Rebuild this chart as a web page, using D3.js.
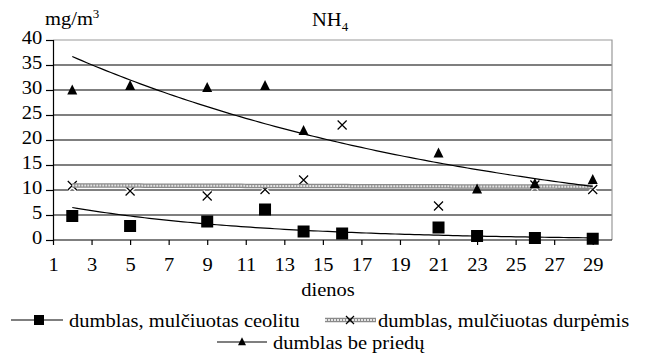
<!DOCTYPE html>
<html>
<head>
<meta charset="utf-8">
<script src="https://cdn.jsdelivr.net/npm/d3@7"></script>
<style>
  body { margin: 0; background: #fff; }
</style>
</head>
<body>
<script>
// Data
var ceolituDays = [2, 5, 9, 12, 14, 16, 21, 23, 26, 29];
var ceolituVals = [4.8, 2.8, 3.7, 6.1, 1.7, 1.3, 2.5, 0.8, 0.4, 0.25];
var durpemisDays = [2, 5, 9, 12, 14, 16, 21, 26, 29];
var durpemisVals = [10.9, 9.8, 8.8, 10.1, 12, 23, 6.8, 11, 10.1];
var bePriedaiDays = [2, 5, 9, 12, 14, 21, 23, 26, 29];
var bePriedaiVals = [29.9, 30.8, 30.4, 30.8, 21.8, 17.3, 10.1, 11.2, 12];
var xTicks = [1, 3, 5, 7, 9, 11, 13, 15, 17, 19, 21, 23, 25, 27, 29];
var yTicks = [0, 5, 10, 15, 20, 25, 30, 35, 40];
var seriesNames = ['dumblas, mulčiuotas ceolitu', 'dumblas, mulčiuotas durpėmis', 'dumblas be priedų'];

var W = 645, H = 358;
var SX = 1.08; // text in the picture is a bit wide
var FS = 19;
var FONT = 'Liberation Serif';

var svg = d3.select('body').append('svg')
	.attr('width', W)
	.attr('height', H);

var x = d3.scaleLinear().domain([1, 30]).range([53, 612]);
var y = d3.scaleLinear().domain([0, 40]).range([240, 40]);

// exponential trendline, like the spreadsheet one
function expFit(xs, ys) {
	var ly = ys.map(function(v){ return Math.log(v); });
	var mx = d3.mean(xs), my = d3.mean(ly);
	var sxy = d3.sum(xs, function(v, i){ return (v - mx) * (ly[i] - my); });
	var sxx = d3.sum(xs, function(v){ return (v - mx) * (v - mx); });
	var b = sxy / sxx;
	var a = Math.exp(my - b * mx);
	return function(t){ return a * Math.exp(b * t); };
}
function trendPoints(xs, ys) {
	var f = expFit(xs, ys);
	return d3.range(d3.min(xs), d3.max(xs) + 0.001, 0.25).map(function(t){ return [t, f(t)]; });
}
var line = d3.line()
	.x(function(d){ return x(d[0]); })
	.y(function(d){ return y(d[1]); });

// gridlines
svg.append('g').selectAll('line')
	.data(yTicks.filter(function(d){ return d > 0 && d < 40; }))
	.enter().append('line')
	.attr('x1', x(1)).attr('x2', x(30))
	.attr('y1', function(d){ return y(d); }).attr('y2', function(d){ return y(d); })
	.attr('stroke', '#000').attr('stroke-width', 1.2);
// plot border top / right
svg.append('path')
	.attr('d', 'M' + x(1) + ',' + y(40) + 'H' + x(30) + 'V' + y(0))
	.attr('fill', 'none').attr('stroke', '#999').attr('stroke-width', 1.2);

// axes
var xAxis = svg.append('g')
	.attr('transform', 'translate(0,' + y(0) + ')')
	.call(d3.axisBottom(x).tickValues(xTicks).tickSize(5).tickPadding(12.5).tickFormat(d3.format('d')));
var yAxis = svg.append('g')
	.attr('transform', 'translate(' + x(1) + ',0)')
	.call(d3.axisLeft(y).tickValues(yTicks).tickSize(7).tickPadding(3));
[xAxis, yAxis].forEach(function(ax){
	ax.attr('font-family', FONT).attr('font-size', FS);
	ax.select('.domain').attr('stroke', '#000').attr('stroke-width', 1.2);
	ax.selectAll('.tick line').attr('stroke', '#000').attr('stroke-width', 1.2);
	ax.selectAll('.tick text')
		.attr('fill', '#000')
		.attr('transform', 'scale(' + SX + ',1)');
});
yAxis.selectAll('.tick text').attr('dy', '0.2em');
xAxis.select('.domain').attr('d', 'M' + x(1) + ',0H' + x(30));

// crosses halo (gaps in gridline)
function crossPath(s) {
	return 'M' + (-s) + ',' + (-s) + 'L' + s + ',' + s + 'M' + (-s) + ',' + s + 'L' + s + ',' + (-s);
}
var crossG = svg.append('g');
crossG.selectAll('path.halo')
	.data(durpemisDays)
	.enter().append('path')
	.attr('class', 'halo')
	.attr('transform', function(d, i){ return 'translate(' + x(d) + ',' + y(durpemisVals[i]) + ')'; })
	.attr('d', crossPath(4.5))
	.attr('stroke', '#fff').attr('stroke-width', 4);

// durpemis trend band
function band(sel, pts) {
	sel.append('path').attr('d', line(pts)).attr('fill', 'none')
		.attr('stroke', '#8a8a8a').attr('stroke-width', 4.5);
	sel.append('path').attr('d', line(pts)).attr('fill', 'none')
		.attr('stroke', '#e4e4e4').attr('stroke-width', 2)
		.attr('stroke-dasharray', '2,1');
}
band(svg.append('g'), trendPoints(durpemisDays, durpemisVals));

crossG.selectAll('path.mark')
	.data(durpemisDays)
	.enter().append('path')
	.attr('class', 'mark')
	.attr('transform', function(d, i){ return 'translate(' + x(d) + ',' + y(durpemisVals[i]) + ')'; })
	.attr('d', crossPath(4.5))
	.attr('stroke', '#000').attr('stroke-width', 1.2);

// trendlines
svg.append('path')
	.attr('d', line(trendPoints(ceolituDays, ceolituVals)))
	.attr('fill', 'none').attr('stroke', '#000').attr('stroke-width', 1.2);
svg.append('path')
	.attr('d', line(trendPoints(bePriedaiDays, bePriedaiVals)))
	.attr('fill', 'none').attr('stroke', '#000').attr('stroke-width', 1.2);

// squares
svg.append('g').selectAll('rect')
	.data(ceolituDays)
	.enter().append('rect')
	.attr('x', function(d){ return x(d) - 6; })
	.attr('y', function(d, i){ return y(ceolituVals[i]) - 6; })
	.attr('width', 12).attr('height', 12)
	.attr('fill', '#000');

// triangles
function triPath(s) {
	return 'M0,' + (-s * 0.6) + 'L' + (s / 2) + ',' + (s * 0.4) + 'L' + (-s / 2) + ',' + (s * 0.4) + 'Z';
}
svg.append('g').selectAll('path')
	.data(bePriedaiDays)
	.enter().append('path')
	.attr('transform', function(d, i){ return 'translate(' + x(d) + ',' + y(bePriedaiVals[i]) + ')'; })
	.attr('d', triPath(10))
	.attr('fill', '#000');

// texts
function label(px, py, str, anchor) {
	return svg.append('text')
		.attr('transform', 'translate(' + px + ',' + py + ') scale(' + SX + ',1)')
		.attr('text-anchor', anchor || 'start')
		.attr('font-family', FONT)
		.attr('font-size', FS)
		.text(str);
}
var unit = label(45, 25, 'mg/m');
unit.append('tspan').attr('dy', -7).attr('font-size', 12).text('3');
var title = label(312, 26, 'NH');
title.append('tspan').attr('dy', 5).attr('font-size', 12).text('4');
label(328, 296, 'dienos', 'middle');

// legend
var lg1 = svg.append('g');
lg1.append('line').attr('x1', 11).attr('x2', 63).attr('y1', 320).attr('y2', 320)
	.attr('stroke', '#000').attr('stroke-width', 1.2);
lg1.append('rect').attr('x', 34).attr('y', 315).attr('width', 10).attr('height', 10).attr('fill', '#000');
label(69, 327, seriesNames[0]);

var lg2 = svg.append('g');
band(lg2, [[x.invert(325), y.invert(320)], [x.invert(376), y.invert(320)]]);
lg2.append('path').attr('transform', 'translate(350,320)').attr('d', crossPath(4))
	.attr('stroke', '#000').attr('stroke-width', 1.2);
label(378, 327, seriesNames[1]);

var lg3 = svg.append('g');
lg3.append('line').attr('x1', 217).attr('x2', 267).attr('y1', 342).attr('y2', 342)
	.attr('stroke', '#000').attr('stroke-width', 1.2);
lg3.append('path').attr('transform', 'translate(242,342)').attr('d', triPath(8)).attr('fill', '#000');
label(273, 349, seriesNames[2]);
</script>
</body>
</html>
